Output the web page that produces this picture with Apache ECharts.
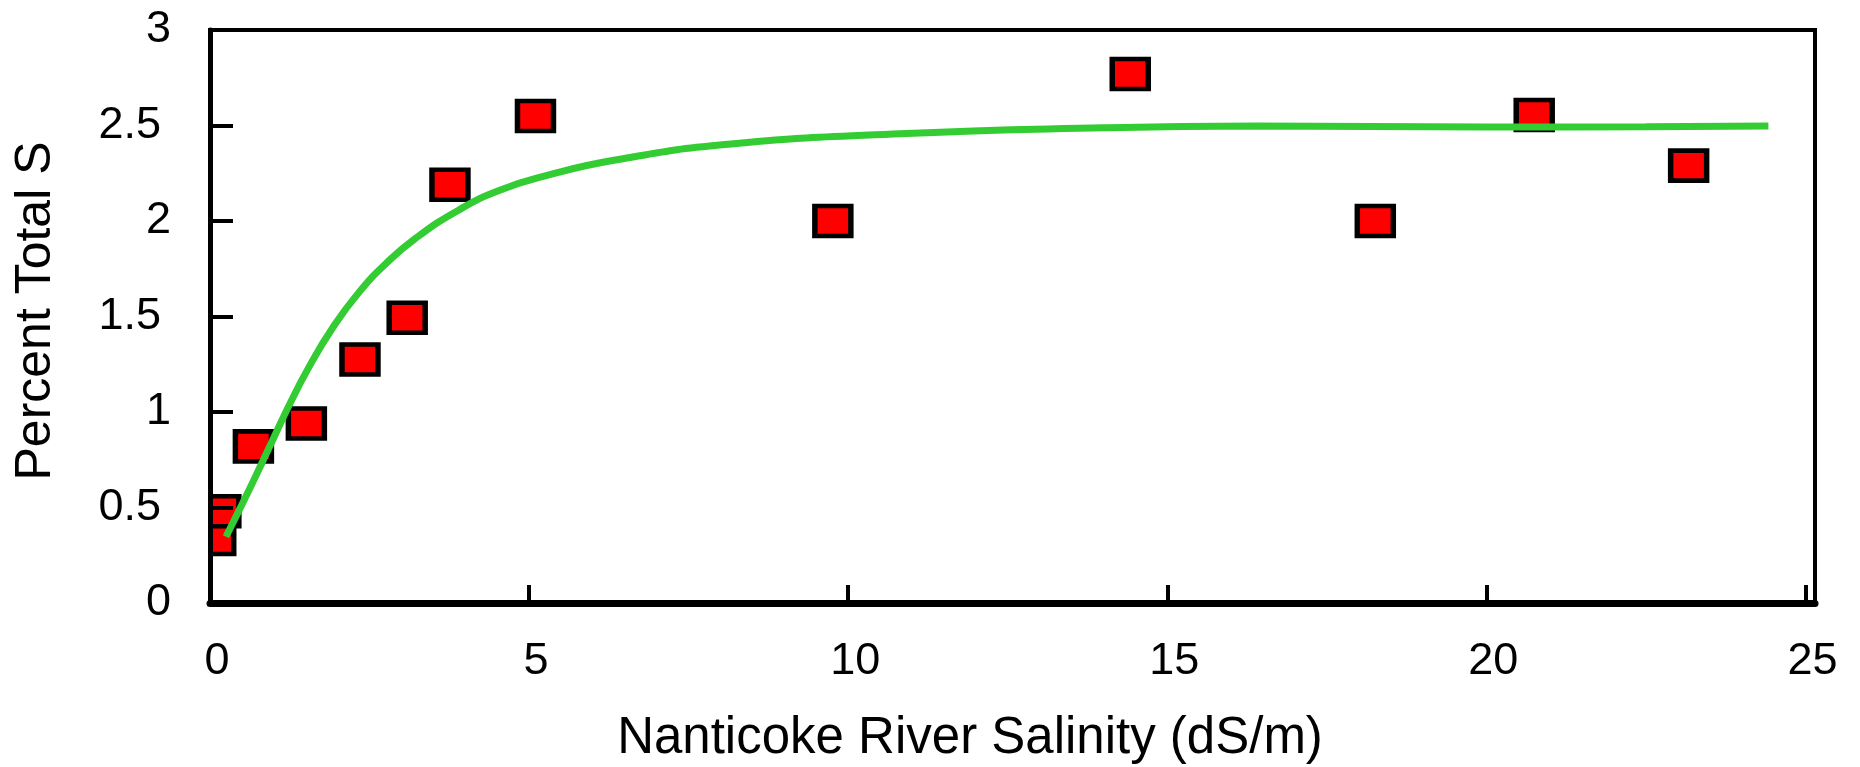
<!DOCTYPE html>
<html>
<head>
<meta charset="utf-8">
<script src="https://cdn.jsdelivr.net/npm/echarts@6/dist/echarts.min.js"></script>
<style>
html,body{margin:0;padding:0;background:#fff;}
#chart{width:1860px;height:767px;}
</style>
</head>
<body>
<div id="chart"></div>
<script>
// Measured data points (salinity dS/m, percent total S)
const salinity = [0.09, 0.17, 0.68, 1.51, 2.35, 3.09, 3.76, 5.1, 9.76, 14.42, 18.26, 20.75, 23.17];
const percentS = [0.335, 0.48, 0.82, 0.94, 1.275, 1.493, 2.19, 2.55, 2.0, 2.77, 2.0, 2.555, 2.29];

// Fitted curve
const fitX = [0.25, 0.61, 0.95, 1.24, 1.55, 1.92, 2.33, 2.75, 3.22, 3.90, 4.53, 5.31, 6.35, 8.07, 10.7, 14.0, 16.4, 20.0, 22.5, 24.42];
const fitY = [0.347, 0.59, 0.83, 1.035, 1.235, 1.44, 1.625, 1.775, 1.909, 2.058, 2.16, 2.241, 2.319, 2.40, 2.455, 2.488, 2.497, 2.492, 2.493, 2.497];

const xTicks = [0, 5, 10, 15, 20, 25];
const yTicks = [0, 0.5, 1, 1.5, 2, 2.5, 3];

const xTitle = 'Nanticoke River Salinity (dS/m)';
const yTitle = 'Percent Total S';

const FONT = '"Liberation Sans", Arial, Helvetica, sans-serif';

const chart = echarts.init(document.getElementById('chart'), null, {renderer: 'canvas'});

chart.setOption({
  animation: false,
  backgroundColor: '#fff',
  grid: {
    left: 210, top: 30, right: 45, bottom: 164,
    show: true, borderColor: '#000', borderWidth: 4, backgroundColor: 'transparent'
  },
  xAxis: {
    type: 'value', min: 0, max: 25.15, interval: 5, z: 10,
    axisLine: {show: true, onZero: false, lineStyle: {color: '#000', width: 7}},
    axisTick: {show: true, inside: true, length: 18, lineStyle: {color: '#000', width: 4}},
    splitLine: {show: false},
    axisLabel: {
      show: true, margin: 36, color: '#000', fontSize: 45, fontFamily: FONT,
      showMaxLabel: false, padding: [0, 0, 0, 14],
      formatter: v => (xTicks.indexOf(v) >= 0 ? String(v) : '')
    }
  },
  yAxis: {
    type: 'value', min: 0, max: 3, interval: 0.5, z: 10,
    axisLine: {show: true, lineStyle: {color: '#000', width: 5}},
    axisTick: {show: true, inside: true, length: 23, lineStyle: {color: '#000', width: 4}},
    splitLine: {show: false},
    axisLabel: {
      show: true, margin: 39, color: '#000', fontSize: 45, fontFamily: FONT,
      formatter: v => (yTicks.indexOf(v) < 0 ? '' : (Number.isInteger(v) ? '{i|' + v + '}' : '{d|' + v + '}')),
      rich: {
        i: {fontSize: 45, fontFamily: FONT, color: '#000'},
        d: {fontSize: 45, fontFamily: FONT, color: '#000', padding: [0, 10, 0, 0]}
      }
    }
  },
  graphic: [
    {
      // masks the part of the markers that falls left of the plot area
      type: 'rect', z: 5,
      shape: {x: 180, y: 0, width: 28, height: 603},
      style: {fill: '#fff'}
    },
    {
      type: 'text', x: 36, y: 311, rotation: Math.PI / 2, z: 6,
      style: {text: yTitle, fontSize: 50, fontFamily: FONT, fill: '#000', align: 'center', verticalAlign: 'middle'}
    },
    {
      type: 'text', x: 970, y: 739, z: 6,
      style: {text: xTitle, fontSize: 51, fontFamily: FONT, fill: '#000', align: 'center', verticalAlign: 'middle'}
    }
  ],
  series: [
    {
      type: 'scatter',
      data: salinity.map((x, i) => [x, percentS[i]]),
      symbol: 'rect', symbolSize: [36, 30],
      itemStyle: {color: '#ff0000', borderColor: '#000', borderWidth: 5, opacity: 1},
      clip: false, z: 2
    },
    {
      type: 'line',
      data: fitX.map((x, i) => [x, fitY[i]]),
      showSymbol: false, smooth: 0.5,
      lineStyle: {color: '#33cc33', width: 7},
      z: 3
    }
  ]
});
</script>
</body>
</html>
